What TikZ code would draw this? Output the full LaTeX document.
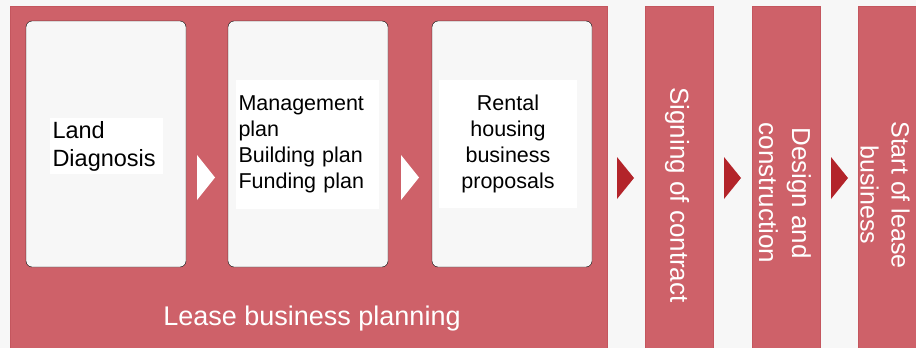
\documentclass[tikz,border=0pt]{standalone}
\usepackage{fontspec}
\setmainfont{Liberation Sans}
\definecolor{leaseRed}{HTML}{CE6169}
\definecolor{leaseEdge}{HTML}{C4565E}
\definecolor{arrowRed}{HTML}{B3242A}
\definecolor{paleGray}{HTML}{F7F7F7}

\begin{document}
\begin{tikzpicture}[x=1pt,y=-1pt,
    card/.style={fill=paleGray,rounded corners=6pt},
    cardtext/.style={fill=white,inner sep=3pt,font=\fontsize{21.5}{26}\selectfont},
    steptext/.style={text=white,rotate=-90,align=center,font=\fontsize{26}{33}\selectfont}]
    		\clip (0,0) rectangle (916,348);
    		\fill[paleGray] (0,0) rectangle (916,348);
    		
    		% planning panel and the later steps
    		\filldraw[fill=leaseRed,draw=leaseEdge] (10,6) rectangle (607,349);
    		\foreach \x in {645,752,858}
    		  \filldraw[fill=leaseRed,draw=leaseEdge] (\x,6) rectangle ++(68,343);
    		
    		\draw[card] (26,21) rectangle (186,267);
    		\draw[card] (228,21) rectangle (388,267);
    		\draw[card] (432,21) rectangle (592,267);
    		
    		\node[cardtext,align=left,text width=107pt,font=\fontsize{23.5}{28}\selectfont] (diag) at (106,146) {Land\\Diagnosis};
    		\node[cardtext,align=left,text width=137pt,minimum height=129pt] (plans) at (307,144) {Management\\plan\\Building plan\\Funding plan};
    		\node[cardtext,align=center,text width=132pt,minimum height=128pt] (rental) at (508,143.5) {Rental\\housing\\business\\proposals};
    		
    		\node[text=white,anchor=base,font=\fontsize{27}{32}\selectfont] (planning) at (312,325) {Lease business planning};
    		
    		\node[steptext] (contract) at (677,195) {Signing of contract};
    		\node[steptext] (build) at (785,193) {Design and\\construction};
    		\node[steptext,font=\fontsize{25}{31}\selectfont] (start) at (885,195) {Start of lease\\business};
    		
    		% arrow heads between the steps
    		\foreach \x in {197,401}
    		  \fill[white] (\x,155) -- ++(18,22.5) -- ++(-18,22.5) -- cycle;
    		\foreach \x in {617,724,831}
    		  \fill[arrowRed] (\x,157) -- ++(17,21) -- ++(-17,21) -- cycle;
    	\end{tikzpicture}
\end{document}
